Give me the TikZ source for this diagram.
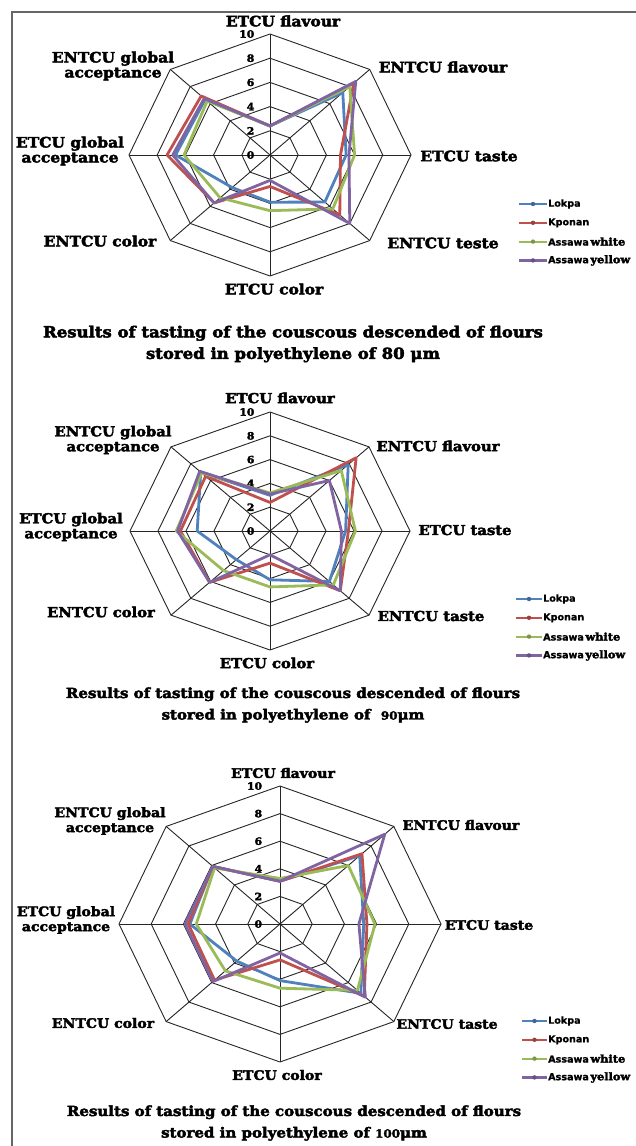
\documentclass[tikz,border=0pt]{standalone}
\usepackage{fontspec}
\setmainfont{DejaVu Serif}
\newfontfamily\hv{DejaVu Serif}[FakeStretch=1.08, BoldFeatures={FakeBold=3}]
\newfontfamily\lsans{DejaVu Sans}[BoldFeatures={FakeBold=0.8}]
\definecolor{lokc}{HTML}{4F81BD}
\definecolor{kpoc}{HTML}{C0504D}
\definecolor{whic}{HTML}{9BBB59}
\definecolor{yelc}{HTML}{8064A2}
\newcommand\radargrid[1]{%
  \foreach \r in {2,4,6,8,10}
    \draw[gridl] (90:\r)--(45:\r)--(0:\r)--(-45:\r)--(-90:\r)--(-135:\r)--(180:\r)--(135:\r)--cycle;
  \foreach \a in {90,45,0,-45,-90,-135,180,135}
    \draw[gridl] (0,0)--(\a:10);
  \foreach \v in {0,2,4,6,8,10}
    \node[tick] (#1k\v) at (-1.1,\v) {\v};
}
\newcommand\series[9]{%
  \draw[#1] (90:#2)--(45:#3)--(0:#4)--(-45:#5)--(-90:#6)--(-135:#7)--(180:#8)--(135:#9)--cycle;}
\newcommand\legendbox[4]{% prefix, line x1, line x2, y0
  \foreach \i/\s/\c/\t in {0/lok/lokc/{\lsans Lokpa},1/kpo/kpoc/{\lsans Kponan},2/whi/whic/{\lsans Assawa}\,{\hv\bfseries\fontsize{10.5}{11}\selectfont white},3/yel/yelc/{\lsans Assawa}\,{\hv\bfseries\fontsize{10.5}{11}\selectfont yellow}}{
    \coordinate (#1a\i) at (#2,{#4+18.8*\i});
    \coordinate (#1b\i) at (#3,{#4+18.8*\i});
    \draw[\s, line width=2.2pt] (#1a\i) -- (#1b\i);
    \fill[\c!80!black] ($(#1a\i)!0.5!(#1b\i)$) circle (2.2pt);
    \node[legt] (#1t\i) at ($(#1b\i)+(1,0)$) {\t};
  }
}
\usetikzlibrary{calc}
\begin{document}
\begin{tikzpicture}[x=1pt,y=-1pt,
  gridl/.style={draw=black!85, line width=0.9pt},
  lok/.style={draw=lokc, line width=2.8pt, line join=round},
  kpo/.style={draw=kpoc, line width=2.8pt, line join=round},
  whi/.style={draw=whic, line width=2.8pt, line join=round},
  yel/.style={draw=yelc, line width=2.8pt, line join=round},
  lab/.style={font=\hv\bfseries\fontsize{#1}{15}\selectfont, align=center, inner sep=0pt},
  tick/.style={font=\hv\bfseries\fontsize{10}{10}\selectfont, anchor=east, inner sep=0pt},
  captxt/.style={font=\hv\bfseries\fontsize{#1}{21.5}\selectfont, align=center, inner sep=0pt},
  legt/.style={font=\lsans\bfseries\fontsize{9.6}{11}\selectfont, anchor=west, inner sep=0pt},
]
\useasboundingbox (0,0) rectangle (636,1146);
\fill[white] (0,0) rectangle (636,1146);
\draw[black!60, line width=1.5pt] (12,1150) -- (12,12) -- (640,12);

% ---------------- chart 1 ----------------
\begin{scope}[shift={(270,155)}, x=14.1pt, y=12.1pt]
  \radargrid{ca}
  \series{lok}{2.4}{7.3}{5.4}{5.5}{3.9}{3.8}{6.7}{6.5}
  \series{kpo}{2.4}{8.4}{5.0}{7.0}{2.6}{5.6}{7.3}{6.9}
  \series{whi}{2.4}{8.0}{6.0}{6.3}{4.6}{5.0}{6.1}{6.3}
  \series{yel}{2.4}{8.6}{5.6}{8.0}{2.1}{5.6}{6.9}{6.6}
\end{scope}
\node[lab=14.3] (ca1) at (283,21) {ETCU flavour};
\node[lab=14.3] (ca2) at (443,67) {ENTCU flavour};
\node[lab=14.3] (ca3) at (469,156) {ETCU taste};
\node[lab=14.3] (ca4) at (443,243) {ENTCU teste};
\node[lab=14.3] (ca5) at (274,289) {ETCU color};
\node[lab=14.3] (ca6) at (100,241) {ENTCU color};
\node[lab=14.3] (ca7) at (70,151) {ETCU global\\acceptance};
\node[lab=14.3] (ca8) at (113,66) {ENTCU global\\acceptance};
\node[captxt=15.3] (cacap) at (293,344) {Results of tasting of the couscous descended of flours\\stored in polyethylene of 80 μm};
\legendbox{cl}{519}{547}{204}

% ---------------- chart 2 ----------------
\begin{scope}[shift={(270,531)}, x=14pt, y=11.9pt]
  \radargrid{cb}
  \series{lok}{3.0}{7.9}{5.4}{6.0}{4.1}{3.4}{5.2}{7.0}
  \series{kpo}{2.4}{8.7}{5.6}{7.1}{2.7}{6.1}{6.4}{6.5}
  \series{whi}{3.2}{7.2}{6.1}{6.4}{4.7}{4.7}{6.7}{6.9}
  \series{yel}{3.1}{6.0}{5.1}{7.1}{2.0}{6.1}{6.6}{7.1}
\end{scope}
\node[lab=13.7] (cb1) at (280,398) {ETCU flavour};
\node[lab=13.7] (cb2) at (438,446) {ENTCU flavour};
\node[lab=13.7] (cb3) at (465,530) {ETCU taste};
\node[lab=13.7] (cb4) at (431,616) {ENTCU taste};
\node[lab=13.7] (cb5) at (267,663) {ETCU color};
\node[lab=13.7] (cb6) at (101,612) {ENTCU color};
\node[lab=13.7] (cb7) at (71,527) {ETCU global\\acceptance};
\node[lab=13.7] (cb8) at (113,440) {ENTCU global\\acceptance};
\node[captxt=13.9] (cbcap) at (293,705) {Results of tasting of the couscous descended of flours\\stored in polyethylene of \ {\fontsize{11}{11}\selectfont 90}μm};
\legendbox{cm}{516}{542}{599}

% ---------------- chart 3 ----------------
\begin{scope}[shift={(280,924)}, x=16.1pt, y=13.8pt]
  \radargrid{cc}
  \series{lok}{3.1}{7.0}{5.2}{7.1}{4.1}{3.8}{5.6}{5.9}
  \series{kpo}{3.1}{7.2}{5.4}{7.4}{2.6}{5.75}{5.7}{5.9}
  \series{whi}{3.3}{6.0}{5.9}{6.8}{4.65}{4.8}{5.2}{5.75}
  \series{yel}{3.1}{9.2}{4.9}{7.5}{2.1}{5.9}{5.9}{5.9}
\end{scope}
\node[lab=13] (cc1) at (283,773) {ETCU flavour};
\node[lab=13] (cc2) at (461,825) {ENTCU flavour};
\node[lab=13] (cc3) at (489,925) {ETCU taste};
\node[lab=13] (cc4) at (447,1024) {ENTCU taste};
\node[lab=13] (cc5) at (277,1075) {ETCU color};
\node[lab=13] (cc6) at (103,1023) {ENTCU color};
\node[lab=13] (cc7) at (66,920) {ETCU global\\acceptance};
\node[lab=13] (cc8) at (110,821) {ENTCU global\\acceptance};
\node[captxt=13.9] (cccap) at (294,1123) {Results of tasting of the couscous descended of flours\\stored in polyethylene of {\fontsize{11}{11}\selectfont 100}μm};
\legendbox{cn}{522}{547}{1021}
\end{tikzpicture}
\end{document}
